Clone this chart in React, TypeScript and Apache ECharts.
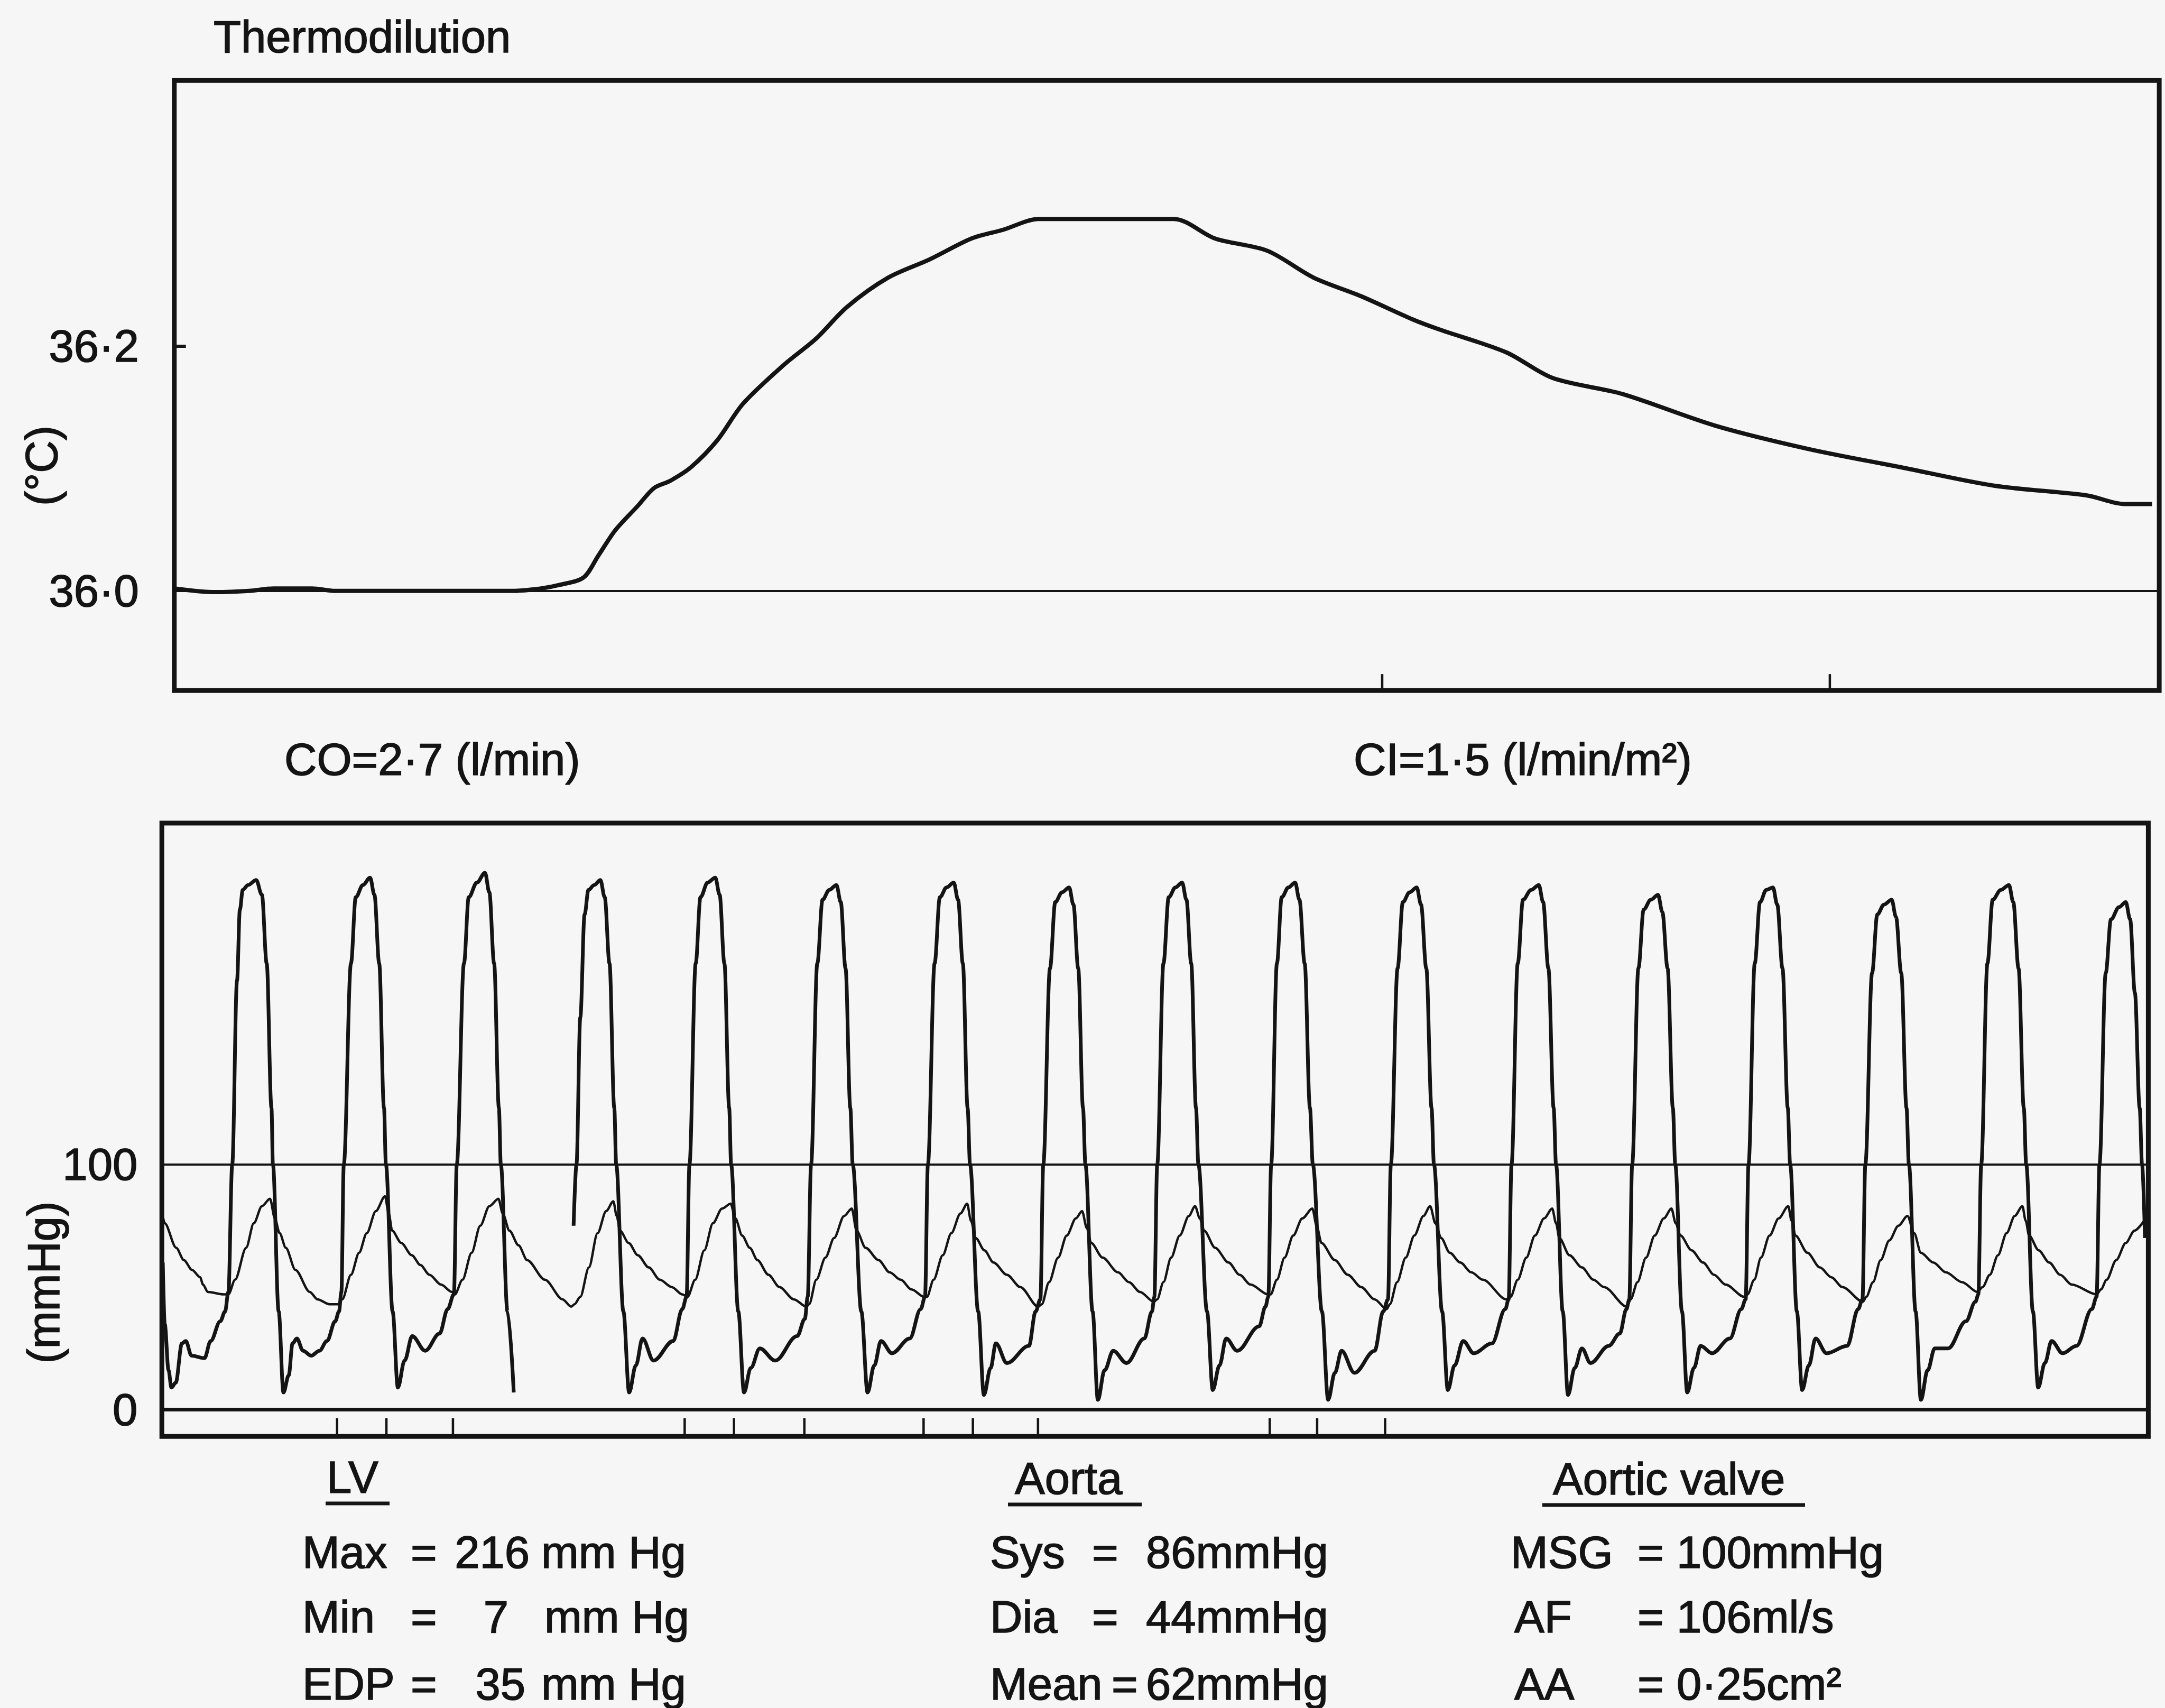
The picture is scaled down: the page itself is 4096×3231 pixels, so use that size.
import React, { useEffect, useRef } from 'react';
import * as echarts from 'echarts';

// ---------- data ----------
// Thermodilution curve: time (arbitrary units) and temperature (°C)
const thermoTime = [0, 86, 156, 207, 288, 336, 706, 766, 806, 855, 886, 922, 967, 1002, 1036, 1079, 1134, 1188, 1274, 1340, 1405, 1491, 1578, 1665, 1730, 1806, 2088, 2174, 2283, 2380, 2478, 2586, 2640, 2782, 2879, 3024, 3219, 3413, 3607, 3801, 3995, 4073, 4131];
const thermoTemp = [36.002, 35.999, 36.0, 36.002, 36.002, 36.0, 36.0, 36.002, 36.005, 36.011, 36.029, 36.05, 36.069, 36.084, 36.09, 36.101, 36.123, 36.153, 36.185, 36.206, 36.232, 36.256, 36.271, 36.288, 36.295, 36.304, 36.304, 36.288, 36.278, 36.256, 36.241, 36.222, 36.214, 36.195, 36.174, 36.161, 36.135, 36.116, 36.101, 36.086, 36.078, 36.071, 36.071];
const thermoTicks = [2523, 3458];
const tempLabels = [36.0, 36.2];

// LV pressure trace (mmHg), two pieces (the pen lifts after beat 3)
const lvTraceA = [
  [2, 60], [6, 35], [14, 16], [20, 9], [29, 11], [42, 27], [50, 28], [62, 22], [89, 21], [102, 28], [122, 36], [132, 40],
  [139, 48], [147, 100], [157, 175], [163, 204], [169, 212], [180, 214], [197, 216], [209, 210], [219, 182], [229, 123], [232, 100], [244, 40], [254, 7], [265, 14], [273, 27], [282, 29], [295, 24], [312, 22], [329, 24], [345, 28], [362, 36], [370, 40],
  [375, 48], [380, 100], [395, 182], [405, 209], [420, 214], [435, 217], [444, 210], [454, 182], [464, 123], [468, 100], [482, 40], [493, 9], [507, 20], [523, 30], [550, 24], [580, 31], [597, 41],
  [610, 47], [616, 100], [631, 182], [641, 209], [658, 215], [675, 219], [684, 211], [694, 182], [704, 123], [708, 100], [722, 40], [735, 7],
];
const lvTraceB = [
  [860, 75], [866, 100], [874, 160], [883, 202], [891, 212], [903, 214], [916, 216], [925, 209], [935, 182], [945, 123], [949, 100], [964, 40], [976, 7], [990, 18], [1004, 29], [1027, 20], [1068, 28], [1087, 41],
  [1096, 46], [1102, 100], [1115, 182], [1125, 209], [1140, 215], [1156, 217], [1165, 210], [1175, 182], [1185, 123], [1189, 100], [1204, 40], [1216, 7], [1230, 17], [1249, 25], [1281, 20], [1327, 30], [1343, 37],
  [1349, 46], [1356, 100], [1369, 182], [1380, 208], [1394, 212], [1409, 214], [1418, 207], [1428, 180], [1438, 123], [1443, 100], [1461, 40], [1474, 7], [1488, 18], [1502, 28], [1525, 23], [1562, 29], [1585, 41],
  [1594, 46], [1600, 100], [1614, 182], [1625, 209], [1639, 213], [1654, 215], [1663, 208], [1673, 182], [1683, 123], [1688, 100], [1705, 40], [1717, 6], [1731, 17], [1742, 27], [1765, 19], [1811, 26], [1825, 40],
  [1835, 45], [1841, 100], [1855, 180], [1866, 207], [1880, 211], [1895, 213], [1904, 206], [1914, 180], [1924, 123], [1929, 100], [1944, 40], [1955, 4], [1969, 16], [1987, 24], [2015, 19], [2052, 29], [2068, 40],
  [2073, 46], [2079, 100], [2092, 182], [2103, 209], [2117, 213], [2131, 215], [2140, 208], [2150, 182], [2160, 123], [2165, 100], [2183, 40], [2195, 8], [2209, 18], [2223, 29], [2246, 24], [2292, 34], [2305, 42],
  [2311, 46], [2317, 100], [2329, 182], [2339, 209], [2353, 213], [2367, 215], [2376, 208], [2387, 182], [2398, 123], [2404, 100], [2423, 40], [2436, 4], [2450, 15], [2464, 24], [2491, 15], [2533, 24], [2551, 40],
  [2561, 45], [2567, 100], [2581, 180], [2592, 207], [2606, 211], [2621, 213], [2630, 206], [2641, 180], [2652, 123], [2657, 100], [2674, 40], [2686, 8], [2700, 18], [2718, 28], [2740, 23], [2778, 27], [2806, 41],
  [2813, 45], [2819, 100], [2832, 182], [2843, 208], [2860, 212], [2876, 214], [2885, 207], [2896, 180], [2907, 123], [2912, 100], [2926, 40], [2937, 6], [2951, 17], [2966, 25], [2984, 19], [3022, 26], [3045, 31], [3059, 41],
  [3065, 45], [3071, 100], [3084, 180], [3095, 204], [3110, 208], [3125, 210], [3134, 203], [3145, 180], [3156, 123], [3161, 100], [3175, 40], [3186, 7], [3200, 17], [3214, 26], [3238, 23], [3275, 29], [3299, 41],
  [3308, 45], [3314, 100], [3327, 182], [3338, 207], [3351, 212], [3365, 213], [3374, 206], [3385, 180], [3396, 123], [3401, 100], [3415, 40], [3426, 8], [3440, 18], [3454, 29], [3477, 23], [3520, 26], [3543, 41],
  [3552, 45], [3558, 100], [3572, 178], [3583, 202], [3597, 206], [3613, 208], [3622, 201], [3633, 178], [3644, 123], [3649, 100], [3663, 40], [3674, 4], [3688, 16], [3703, 25], [3731, 25], [3768, 36], [3788, 44],
  [3794, 47], [3800, 100], [3813, 182], [3824, 208], [3841, 212], [3858, 214], [3867, 207], [3878, 180], [3889, 123], [3894, 100], [3908, 40], [3919, 9], [3933, 19], [3947, 28], [3970, 23], [3999, 26], [4031, 41],
  [4041, 46], [4047, 100], [4060, 178], [4071, 200], [4088, 205], [4102, 207], [4111, 200], [4121, 170], [4131, 123], [4136, 100], [4142, 70],
];

// Aortic pressure trace (mmHg)
const aortaTrace = [
  [3, 78], [6, 76], [30, 66], [46, 61], [63, 57], [80, 54], [86, 51], [96, 48], [129, 47],
  [139, 47], [153, 53], [176, 66], [192, 76], [209, 83], [226, 86], [236, 78], [246, 72], [259, 66], [279, 57], [309, 48], [325, 45], [350, 43], [368, 43],
  [377, 45], [395, 55], [412, 64], [428, 72], [447, 81], [466, 87], [474, 80], [481, 73], [500, 68], [522, 63], [540, 59], [559, 55], [583, 51], [606, 48],
  [612, 47], [628, 53], [647, 64], [665, 75], [684, 83], [703, 86], [712, 80], [726, 73], [745, 67], [763, 61], [800, 53], [837, 45], [855, 42],
  [862, 43], [874, 46], [892, 58], [910, 72], [928, 81], [943, 85], [950, 79], [957, 73], [975, 68], [994, 63], [1017, 58], [1040, 53], [1065, 50], [1087, 47],
  [1098, 46], [1114, 53], [1133, 65], [1151, 76], [1170, 82], [1188, 84], [1198, 78], [1212, 71], [1228, 66], [1244, 61], [1267, 55], [1290, 50], [1320, 45], [1346, 42],
  [1352, 43], [1367, 53], [1386, 62], [1404, 70], [1425, 79], [1441, 82], [1451, 73], [1470, 66], [1497, 61], [1520, 56], [1543, 53], [1566, 49], [1592, 46],
  [1598, 46], [1612, 53], [1631, 63], [1649, 72], [1668, 80], [1682, 84], [1690, 77], [1700, 70], [1718, 65], [1737, 60], [1765, 55], [1793, 50], [1830, 42],
  [1838, 43], [1853, 52], [1872, 62], [1890, 71], [1909, 78], [1922, 81], [1932, 74], [1941, 68], [1965, 62], [1997, 56], [2020, 52], [2043, 48], [2072, 44],
  [2079, 45], [2092, 52], [2108, 62], [2126, 71], [2145, 79], [2158, 83], [2168, 78], [2177, 73], [2200, 66], [2228, 60], [2251, 55], [2274, 51], [2310, 47],
  [2316, 47], [2329, 53], [2345, 62], [2363, 71], [2382, 78], [2403, 82], [2412, 75], [2422, 68], [2450, 61], [2477, 55], [2505, 50], [2533, 45], [2558, 41],
  [2565, 43], [2580, 52], [2598, 62], [2616, 71], [2635, 79], [2649, 83], [2660, 76], [2672, 70], [2690, 64], [2712, 60], [2735, 56], [2759, 53], [2808, 45],
  [2817, 46], [2832, 53], [2850, 62], [2868, 71], [2887, 78], [2904, 82], [2912, 76], [2919, 70], [2940, 63], [2966, 58], [2990, 53], [3012, 50], [3060, 42],
  [3068, 45], [3082, 52], [3100, 62], [3118, 71], [3137, 78], [3153, 82], [3162, 76], [3172, 71], [3195, 65], [3219, 60], [3242, 55], [3266, 51], [3305, 46],
  [3312, 47], [3326, 53], [3340, 62], [3358, 71], [3377, 78], [3397, 83], [3404, 77], [3412, 71], [3437, 64], [3463, 58], [3487, 54], [3510, 50], [3553, 44],
  [3560, 46], [3574, 52], [3590, 61], [3608, 69], [3627, 75], [3646, 79], [3660, 72], [3674, 64], [3700, 60], [3726, 56], [3760, 52], [3792, 48],
  [3803, 50], [3818, 55], [3835, 63], [3853, 72], [3870, 79], [3886, 83], [3893, 77], [3900, 71], [3920, 65], [3942, 60], [3965, 55], [3989, 51], [4041, 47],
  [4050, 49], [4062, 53], [4082, 61], [4102, 68], [4120, 73], [4140, 77],
];
const eventTicks = [366, 469, 608, 1092, 1195, 1342, 1591, 1694, 1830, 2314, 2413, 2555];
const pressureLabels = [0, 100];

// Texts
const titleText = 'Thermodilution';
const tempUnit = '(°C)';
const pressureUnit = '(mmHg)';
const coText = 'CO=2·7 (l/min)';
const ciText = 'CI=1·5 (l/min/m²)';
const lvHeader = 'LV';
const lvNames = ['Max', 'Min', 'EDP'];
const lvValues = ['216', '7', '35'];
const lvUnits = ['mm Hg', 'mm Hg', 'mm Hg'];
const aortaHeader = 'Aorta';
const aortaNames = ['Sys', 'Dia', 'Mean'];
const aortaValues = ['86mmHg', '44mmHg', '62mmHg'];
const valveHeader = 'Aortic valve';
const valveNames = ['MSG', 'AF', 'AA'];
const valveValues = ['100mmHg', '106ml/s', '0·25cm²'];

// ---------- layout ----------
const INK = '#141414';
const FONT = '"Liberation Sans", Arial, sans-serif';
const FS = 85;
const TEXT_STROKE = 1.6;
const ROW_Y = [2936, 3058, 3185];

const pairs = (xs: number[], ys: number[]) => xs.map((x, i) => [x, ys[i]]);

function txt(x: number, y: number, text: string, align = 'left', rotation = 0) {
  return {
    type: 'text',
    x,
    y,
    rotation,
    silent: true,
    style: {
      text, fill: INK, fontSize: FS, fontFamily: FONT, align, verticalAlign: 'middle',
      stroke: INK, lineWidth: TEXT_STROKE,
    },
  };
}
function uline(x1: number, x2: number, y: number) {
  return { type: 'line', silent: true, shape: { x1, y1: y, x2, y2: y }, style: { stroke: INK, lineWidth: 7 } };
}

function tickSeries(xAxisIndex: number, data: number[], y0: number, y1: number) {
  return {
    type: 'custom',
    xAxisIndex,
    yAxisIndex: xAxisIndex,
    silent: true,
    data: data.map((v) => [v, y1]),
    encode: { x: 0, y: 1 },
    renderItem: (_p: any, api: any) => {
      const x = api.value(0);
      const a = api.coord([x, y0]);
      const b = api.coord([x, y1]);
      return {
        type: 'line',
        shape: { x1: a[0], y1: a[1], x2: b[0], y2: b[1] },
        style: { stroke: INK, lineWidth: 4.5 },
      };
    },
  };
}

export default function App() {
  const ref = useRef<HTMLDivElement>(null);
  useEffect(() => {
    document.body.style.margin = '0';
    const chart = echarts.init(ref.current!, null, { renderer: 'svg', width: 4096, height: 3231 });
    const graphic: any[] = [
      txt(404, 69, titleText),
      txt(78, 881, tempUnit, 'center', Math.PI / 2),
      txt(538, 1436, coText),
      txt(2561, 1436, ciText),
      txt(82, 2426, pressureUnit, 'center', Math.PI / 2),
      txt(618, 2794, lvHeader),
      uline(616, 737, 2844),
      txt(1920, 2796, aortaHeader),
      uline(1907, 2160, 2846),
      txt(2938, 2797, valveHeader),
      uline(2918, 3415, 2847),
    ];
    const lvValRight = [1002, 962, 994];
    const lvUnitX = [1024, 1030, 1024];
    ROW_Y.forEach((y, i) => {
      graphic.push(txt(572, y, lvNames[i]));
      graphic.push(txt(777, y, '='));
      graphic.push(txt(lvValRight[i], y, lvValues[i], 'right'));
      graphic.push(txt(lvUnitX[i], y, lvUnits[i]));
      graphic.push(txt(1873, y, aortaNames[i]));
      graphic.push(txt(i === 2 ? 2103 : 2066, y, '='));
      graphic.push(txt(2168, y, aortaValues[i]));
      graphic.push(txt(i === 0 ? 2858 : 2865, y, valveNames[i]));
      graphic.push(txt(3098, y, '='));
      graphic.push(txt(3172, y, valveValues[i]));
    });

    const labelStyle = {
      fontSize: FS, color: INK, fontFamily: FONT,
      textBorderColor: INK, textBorderWidth: TEXT_STROKE,
    };

    const option: any = {
      animation: false,
      backgroundColor: '#f6f6f6',
      textStyle: { fontFamily: FONT },
      grid: [
        { left: 329.7, top: 152.2, width: 3755.4, height: 1154, show: true, borderColor: INK, borderWidth: 9, backgroundColor: 'transparent', containLabel: false, outerBoundsMode: 'none' },
        { left: 306.2, top: 1557, width: 3758.2, height: 1160.3, show: true, borderColor: INK, borderWidth: 9, backgroundColor: 'transparent', containLabel: false, outerBoundsMode: 'none' },
      ],
      xAxis: [
        { type: 'value', gridIndex: 0, min: 0, max: 4146, show: false },
        { type: 'value', gridIndex: 1, min: 0, max: 4149, show: false },
      ],
      yAxis: [
        {
          type: 'value', gridIndex: 0, min: 35.9186, max: 36.4172,
          axisLine: { show: false }, splitLine: { show: false },
          axisTick: { show: true, inside: true, length: 22, customValues: [36.2], lineStyle: { color: INK, width: 6 } },
          axisLabel: {
            customValues: tempLabels, margin: 67, ...labelStyle,
            formatter: (v: number) => v.toFixed(1).replace('.', '·'),
          },
        },
        {
          type: 'value', gridIndex: 1, min: -10.94, max: 239.26,
          axisLine: { show: false }, splitLine: { show: false }, axisTick: { show: false },
          axisLabel: { customValues: pressureLabels, margin: 46, ...labelStyle, formatter: (v: number) => String(v) },
        },
      ],
      series: [
        {
          type: 'line', xAxisIndex: 0, yAxisIndex: 0, data: pairs(thermoTime, thermoTemp),
          showSymbol: false, smooth: 0.3, silent: true,
          lineStyle: { color: INK, width: 8 },
          markLine: { silent: true, symbol: 'none', label: { show: false }, lineStyle: { color: INK, width: 4, type: 'solid' }, data: [{ yAxis: 36.0 }] },
        },
        tickSeries(0, thermoTicks, 35.9186, 35.932),
        {
          type: 'line', xAxisIndex: 1, yAxisIndex: 1, data: aortaTrace,
          showSymbol: false, smooth: 0.3, smoothMonotone: 'x', silent: true,
          lineStyle: { color: INK, width: 4.5 },
          markLine: {
            silent: true, symbol: 'none', label: { show: false },
            data: [
              { yAxis: 100, lineStyle: { color: INK, width: 4, type: 'solid' } },
              { yAxis: 0, lineStyle: { color: INK, width: 7, type: 'solid' } },
            ],
          },
        },
        {
          type: 'line', xAxisIndex: 1, yAxisIndex: 1, data: lvTraceA,
          showSymbol: false, smooth: 0.35, smoothMonotone: 'x', silent: true,
          lineStyle: { color: INK, width: 7 },
        },
        {
          type: 'line', xAxisIndex: 1, yAxisIndex: 1, data: lvTraceB,
          showSymbol: false, smooth: 0.35, smoothMonotone: 'x', silent: true,
          lineStyle: { color: INK, width: 7 },
        },
        tickSeries(1, eventTicks, -10.94, -3.5),
      ],
      graphic,
    };
    chart.setOption(option);
    return () => chart.dispose();
  }, []);
  return <div ref={ref} style={{ position: 'absolute', left: 0, top: 0, width: 4096, height: 3231 }} />;
}
